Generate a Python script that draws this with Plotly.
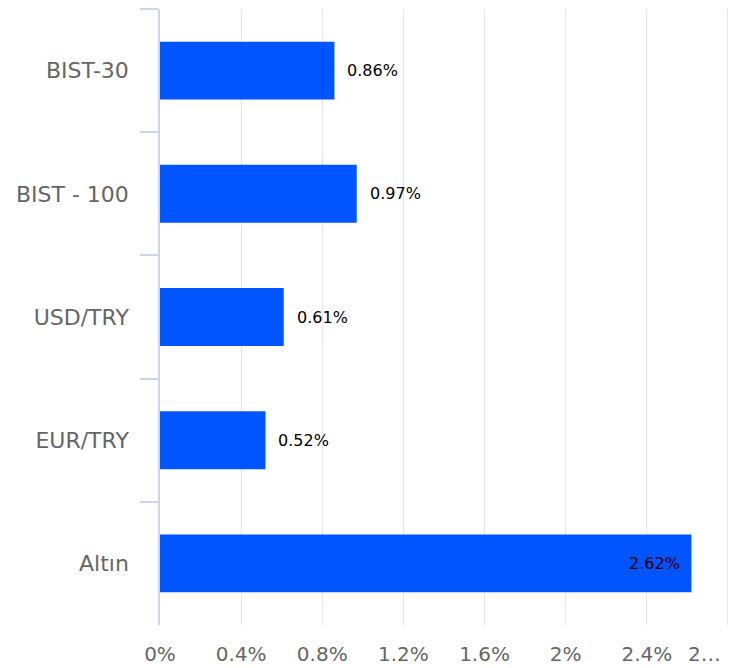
import plotly.graph_objects as go

categories = ["BIST-30", "BIST - 100", "USD/TRY", "EUR/TRY", "Altın"]
values = [0.86, 0.97, 0.61, 0.52, 2.62]
tick_values = [0, 0.4, 0.8, 1.2, 1.6, 2.0, 2.4, 2.8]
tick_labels = ["0%", "0.4%", "0.8%", "1.2%", "1.6%", "2%", "2.4%", ""]
last_tick_label = "2…"   # truncated label of the 2.8% tick, as in the reference
inside_label = ["Altın"]

FONT = "DejaVu Sans"
BAR_COLOR = "#0055FF"

fig = go.Figure()
fig.add_trace(go.Bar(
    x=values,
    y=categories,
    orientation="h",
    marker=dict(color=BAR_COLOR, line=dict(width=0)),
    hoverinfo="skip",
))

for c, v in zip(categories, values):
    inside = c in inside_label
    fig.add_annotation(
        x=v, y=c, xref="x", yref="y",
        text=f"{v:.2f}%",
        showarrow=False,
        xanchor="right" if inside else "left",
        xshift=-9 if inside else 11,
        font=dict(family=FONT, size=16, color="#000000"),
    )

fig.add_annotation(
    x=tick_values[-1], y=0, xref="x", yref="paper",
    text=last_tick_label, showarrow=False,
    xanchor="right", yanchor="middle", xshift=-5, yshift=-29,
    font=dict(family=FONT, size=20, color="#666666"),
)

# page body has an 8px margin, so the figure is sized to the visible area
fig.update_layout(
    width=736, height=660,
    margin=dict(l=152, r=12, t=1, b=43),
    paper_bgcolor="white",
    plot_bgcolor="white",
    showlegend=False,
    bargap=0.53,
    font=dict(family=FONT, color="#666666"),
)

fig.update_xaxes(
    range=[0, 2.82],
    tickvals=tick_values,
    ticktext=tick_labels,
    showgrid=True, gridcolor="#e6e6e6", gridwidth=1,
    zeroline=False,
    showline=False,
    ticks="outside", ticklen=11, tickcolor="rgba(0,0,0,0)",
    tickfont=dict(family=FONT, size=20, color="#666666"),
    automargin=False,
    fixedrange=True,
)

fig.update_yaxes(
    autorange="reversed",
    showline=True, linecolor="#ccd6eb", linewidth=1.5,
    showgrid=False,
    zeroline=False,
    ticks="outside", ticklen=18, tickcolor="#ccd6eb", tickwidth=1.5,
    tickson="boundaries",
    ticklabelstandoff=25,
    tickfont=dict(family=FONT, size=22, color="#666666"),
    automargin=False,
    fixedrange=True,
)

fig.write_html("out.html")
